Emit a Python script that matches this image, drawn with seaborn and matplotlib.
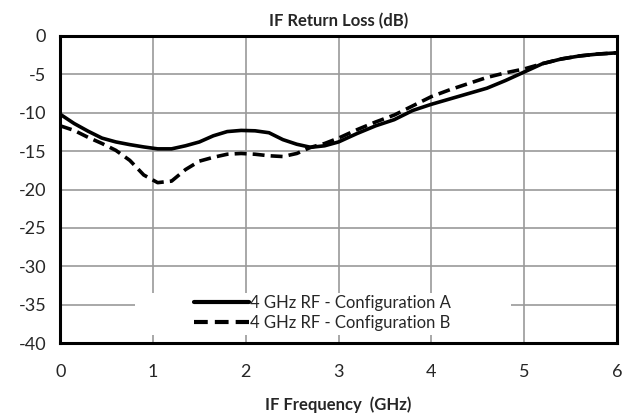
import pandas as pd
import matplotlib.pyplot as plt
from matplotlib.patches import Rectangle
import seaborn as sns

freq = [0, 0.15, 0.3, 0.45, 0.6, 0.75, 0.9, 1.05, 1.2, 1.35, 1.5, 1.65, 1.8, 1.95,
        2.1, 2.25, 2.4, 2.55, 2.7, 2.85, 3.0, 3.2, 3.4, 3.6, 3.8, 4.0, 4.2, 4.4,
        4.6, 4.8, 5.0, 5.2, 5.4, 5.6, 5.8, 6.0]

config_a = [-10.2, -11.4, -12.4, -13.3, -13.8, -14.15, -14.45, -14.7, -14.7, -14.3,
            -13.8, -13.0, -12.45, -12.3, -12.35, -12.6, -13.5, -14.1, -14.5, -14.3,
            -13.8, -12.7, -11.7, -10.9, -9.7, -8.9, -8.2, -7.5, -6.8, -5.8,
            -4.7, -3.6, -3.0, -2.6, -2.35, -2.2]

config_b = [-11.7, -12.3, -13.2, -14.0, -14.9, -16.2, -18.1, -19.1, -18.9, -17.4,
            -16.3, -15.8, -15.4, -15.3, -15.4, -15.6, -15.7, -15.3, -14.5, -14.0,
            -13.3, -12.2, -11.2, -10.3, -9.1, -7.9, -7.0, -6.2, -5.4, -4.8,
            -4.3, -3.6, -3.0, -2.6, -2.35, -2.2]

label_a = '4 GHz RF - Configuration A'
label_b = '4 GHz RF - Configuration B'

df = pd.DataFrame({
    'freq': freq + freq,
    'rl': config_a + config_b,
    'config': [label_a] * len(freq) + [label_b] * len(freq),
})

sns.set_style('white')
plt.rcParams['font.family'] = ['Lato', 'DejaVu Sans']
plt.rcParams['axes.unicode_minus'] = False

fig, ax = plt.subplots(figsize=(6.34, 4.18), dpi=100)
fig.subplots_adjust(left=0.095, right=0.973, top=0.914, bottom=0.179)

sns.lineplot(data=df, x='freq', y='rl', hue='config', style='config',
             palette=['black', 'black'], dashes={label_a: '', label_b: (3.3, 1.7)},
             linewidth=2.6, ax=ax, zorder=3)

ax.set_xlim(0, 6)
ax.set_ylim(-40, 0)
ax.set_xticks(range(0, 7))
ax.set_yticks(range(-40, 1, 5))
ax.grid(True, color='#9a9a9a', linewidth=1.2)
ax.tick_params(axis='y', labelsize=13, length=0, pad=10)
ax.tick_params(axis='x', labelsize=13, length=0, pad=15)
for s in ax.spines.values():
    s.set_color('black')
    s.set_linewidth(2.2)

ax.set_title('IF Return Loss (dB)', fontsize=12, fontweight='bold', pad=7)
ax.set_xlabel('IF Frequency  (GHz)', fontsize=12, fontweight='bold', labelpad=12)
ax.set_ylabel('')

# white box behind the legend, hides the grid
ax.add_patch(Rectangle((0.135, 0.025), 0.675, 0.1375, transform=ax.transAxes,
                       facecolor='white', edgecolor='none', zorder=1))

leg = ax.legend(loc='center left', bbox_to_anchor=(0.225, 0.0975), fontsize=12,
                frameon=False, handlelength=3.3, handletextpad=0.05, borderpad=0,
                labelspacing=0.25)
for line in leg.get_lines():
    line.set_linewidth(3)

plt.savefig('out.png', dpi=100)
